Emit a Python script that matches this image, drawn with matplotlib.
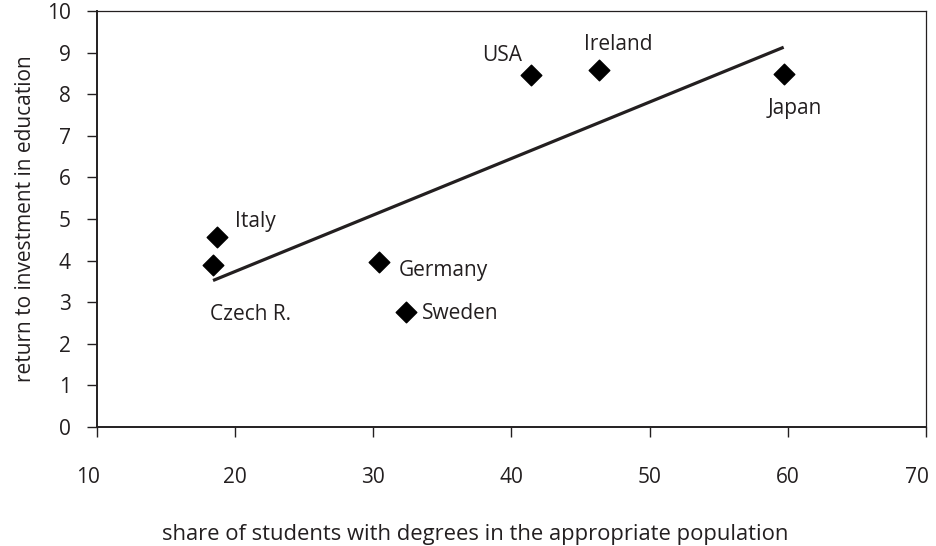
import numpy as np
import matplotlib
matplotlib.use('Agg')
import matplotlib.pyplot as plt
import matplotlib.transforms as mtransforms

plt.rcParams['font.family'] = ['Open Sans', 'DejaVu Sans']

# data
countries = ['Czech R.', 'Italy', 'Germany', 'Sweden', 'USA', 'Ireland', 'Japan']
share = [18.4, 18.7, 30.4, 32.4, 41.4, 46.3, 59.7]
returns = [3.9, 4.56, 3.97, 2.77, 8.46, 8.58, 8.49]

# label offsets (points) and alignment for each country
offsets = [(-2, -36), (13, 11), (14, -6), (11, -1), (-6, 14), (14, 18), (8, -25)]
aligns = ['left', 'left', 'left', 'left', 'right', 'center', 'center']

ink = '#231f20'
fs = 15

fig = plt.figure(figsize=(9.36, 5.46), dpi=100)
ax = fig.add_axes([0.1036, 0.218, 0.8857, 0.762])

# linear trend line through the points
k, m = np.polyfit(share, returns, 1)
xs = np.array([min(share), max(share)])
ax.plot(xs, k * xs + m, color=ink, lw=2.3, solid_capstyle='butt', zorder=2)

ax.scatter(share, returns, marker='D', s=110, color='black', zorder=3)

for c, x, y, off, ha in zip(countries, share, returns, offsets, aligns):
    ax.annotate(c, (x, y), xytext=off, textcoords='offset points',
                ha=ha, va='center', fontsize=fs, color=ink)

ax.set_xlim(10, 70)
ax.set_ylim(0, 10)
ax.set_xticks(range(10, 71, 10))
ax.set_yticks(range(0, 11))
ax.tick_params(axis='both', labelsize=fs, colors=ink, direction='out', length=7, width=1)
ax.tick_params(axis='x', pad=22)
ax.tick_params(axis='y', pad=12)

# first and last x labels sit a bit left of their ticks in the original
shift = mtransforms.ScaledTranslation(-0.09, 0, fig.dpi_scale_trans)
xlabels = ax.get_xticklabels()
for lab in (xlabels[0], xlabels[-1]):
    lab.set_transform(lab.get_transform() + shift)

for s in ['top', 'right']:
    ax.spines[s].set_linewidth(0.9)
    ax.spines[s].set_color(ink)
for s in ['left', 'bottom']:
    ax.spines[s].set_linewidth(1.4)
    ax.spines[s].set_color(ink)

ax.set_xlabel('share of students with degrees in the appropriate population', fontsize=15.8, color=ink)
ax.xaxis.set_label_coords(0.456, -0.233)
ax.set_ylabel('return to investment in education', fontsize=fs, color=ink, labelpad=8)

plt.savefig('out.png', dpi=100)
